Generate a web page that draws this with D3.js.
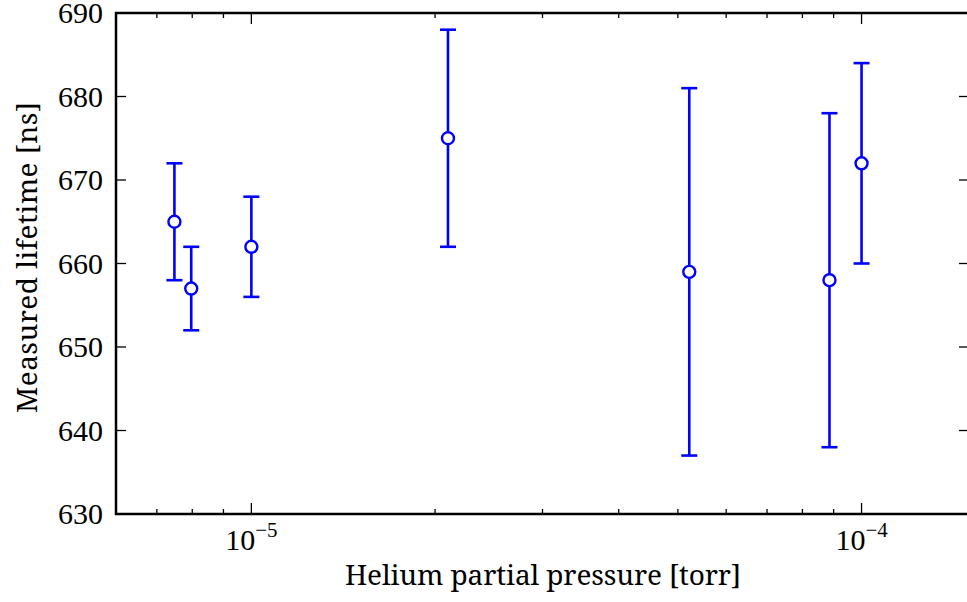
<!DOCTYPE html>
<html><head><meta charset="utf-8">
<script src="https://cdn.jsdelivr.net/npm/d3@7"></script>
<style>body{margin:0;background:#fff}svg{display:block}</style>
</head><body><svg id="c" width="967" height="602"></svg>
<script>
const pressure = [7.48e-6, 7.97e-6, 1.0e-5, 2.10e-5, 5.22e-5, 8.86e-5, 1.0e-4];
const lifetime = [665, 657, 662, 675, 659, 658, 672];
const errLow   = [658, 652, 656, 662, 637, 638, 660];
const errHigh  = [672, 662, 668, 688, 681, 678, 684];
const yTicks = [630, 640, 650, 660, 670, 680, 690];
const xMajor = [1e-5, 1e-4];
const xLabel = "Helium partial pressure [torr]";
const yLabel = "Measured lifetime [ns]";

const svg = d3.select("#c");
const L = 116, R = 969, T = 13, B = 514;
const tickFont = "'Liberation Serif', serif";
const labelFont = "'Noto Serif', serif";
const x = d3.scaleLog().domain([6e-6, 1.5e-4]).range([L, R]);
const y = d3.scaleLinear().domain([630, 690]).range([B, T]);

const minor = [];
[1e-6, 1e-5, 1e-4].forEach(d => { for (let k = 2; k <= 9; k++) { const v = d * k; if (v > 6e-6 && v < 1.5e-4) minor.push(v); } });

const g = svg.append("g");
const tk = (x1, y1, x2, y2) => g.append("line").attr("x1", x1).attr("y1", y1).attr("x2", x2).attr("y2", y2).attr("stroke", "#000").attr("stroke-width", 1.3);
minor.forEach(v => { tk(x(v), B, x(v), B - 5); tk(x(v), T, x(v), T + 5); });
xMajor.forEach(v => {
  tk(x(v), B, x(v), B - 11); tk(x(v), T, x(v), T + 11);
  const t = g.append("text").attr("x", x(v)).attr("y", 550).attr("text-anchor", "middle")
    .attr("font-family", tickFont).attr("font-size", 30).attr("fill", "#000");
  t.append("tspan").text("10");
  t.append("tspan").attr("dy", -13).attr("font-size", 21).text("\u2212" + Math.round(-Math.log10(v)));
});
yTicks.forEach(v => {
  if (v > 630 && v < 690) { tk(L, y(v), L + 10, y(v)); tk(R, y(v), R - 10, y(v)); }
  g.append("text").attr("x", 103).attr("y", y(v) + 10).attr("text-anchor", "end")
    .attr("font-family", tickFont).attr("font-size", 30).attr("fill", "#000").text(v);
});
g.append("rect").attr("x", L).attr("y", T).attr("width", R - L).attr("height", B - T)
  .attr("fill", "none").attr("stroke", "#000").attr("stroke-width", 2.5);

const data = pressure.map((p, i) => ({p, v: lifetime[i], lo: errLow[i], hi: errHigh[i]}));
const eb = svg.append("g").attr("stroke", "#0000ff").attr("stroke-width", 2.6);
data.forEach(d => {
  eb.append("line").attr("x1", x(d.p)).attr("x2", x(d.p)).attr("y1", y(d.lo)).attr("y2", y(d.hi));
  [d.lo, d.hi].forEach(c => eb.append("line").attr("x1", x(d.p) - 8).attr("x2", x(d.p) + 8).attr("y1", y(c)).attr("y2", y(c)));
});
svg.append("g").selectAll("circle").data(data).join("circle")
  .attr("cx", d => x(d.p)).attr("cy", d => y(d.v)).attr("r", 6)
  .attr("fill", "#fff").attr("stroke", "#0000ff").attr("stroke-width", 2.4);

svg.append("text").attr("x", 345).attr("y", 585)
  .attr("textLength", 396).attr("lengthAdjust", "spacing")
  .attr("font-family", labelFont).attr("font-size", 28).text(xLabel);
svg.append("text").attr("transform", "translate(37,413) rotate(-90)")
  .attr("textLength", 311).attr("lengthAdjust", "spacing")
  .attr("font-family", labelFont).attr("font-size", 28).text(yLabel);
</script></body></html>
